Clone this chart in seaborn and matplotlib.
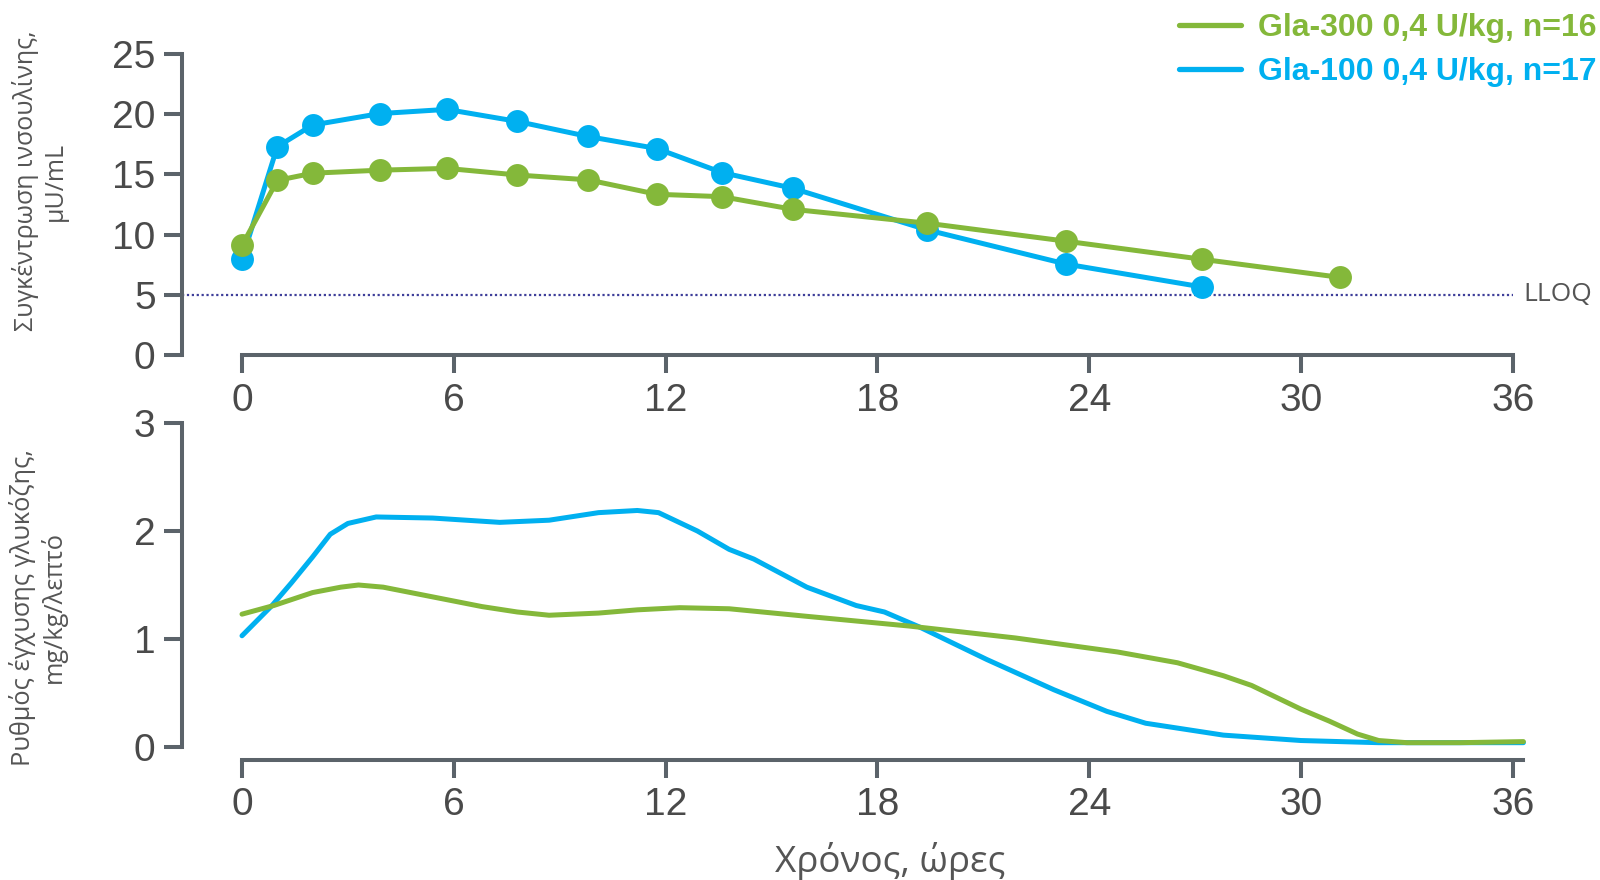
import numpy as np
import pandas as pd
import matplotlib
matplotlib.use("Agg")
import matplotlib.pyplot as plt
import seaborn as sns
from matplotlib.lines import Line2D

# ---------------- data ----------------
lab300 = "Gla-300 0,4 U/kg, n=16"
lab100 = "Gla-100 0,4 U/kg, n=17"

ins_time_300 = [0, 1.0, 2.0, 3.9, 5.8, 7.8, 9.8, 11.75, 13.6, 15.6, 19.4, 23.35, 27.2, 31.1]
ins_300 = [9.1, 14.5, 15.1, 15.35, 15.5, 14.95, 14.55, 13.35, 13.15, 12.1, 10.95, 9.45, 7.95, 6.45]
ins_time_100 = [0, 1.0, 2.0, 3.9, 5.8, 7.8, 9.8, 11.75, 13.6, 15.6, 19.4, 23.35, 27.2]
ins_100 = [7.95, 17.3, 19.1, 20.05, 20.4, 19.4, 18.15, 17.15, 15.15, 13.85, 10.4, 7.55, 5.65]

gir_time_300 = [0, 0.9, 2.0, 2.8, 3.3, 4.0, 5.4, 6.8, 7.8, 8.7, 10.1, 11.2, 12.4, 13.8, 16.0, 18.9,
                21.9, 24.8, 26.5, 27.8, 28.6, 29.3, 30.0, 30.8, 31.6, 32.2, 33.0, 34.5, 36.3]
gir_300 = [1.23, 1.31, 1.43, 1.48, 1.50, 1.48, 1.39, 1.30, 1.25, 1.22, 1.24, 1.27, 1.29, 1.28, 1.21, 1.12,
           1.01, 0.88, 0.78, 0.66, 0.57, 0.46, 0.35, 0.24, 0.12, 0.06, 0.04, 0.04, 0.05]
gir_time_100 = [0, 0.85, 1.4, 2.0, 2.5, 3.0, 3.8, 5.4, 7.3, 8.7, 10.1, 11.2, 11.8, 12.9, 13.8,
                14.5, 16.0, 17.4, 18.2, 19.2, 21.1, 23.0, 24.5, 25.6, 27.8, 30.0, 32.2, 36.3]
gir_100 = [1.03, 1.31, 1.52, 1.76, 1.97, 2.07, 2.13, 2.12, 2.08, 2.10, 2.17, 2.19, 2.17, 2.00, 1.83,
           1.74, 1.48, 1.31, 1.25, 1.11, 0.81, 0.53, 0.33, 0.22, 0.11, 0.06, 0.04, 0.04]

x_ticks = [0, 6, 12, 18, 24, 30, 36]
ins_ticks = [0, 5, 10, 15, 20, 25]
gir_ticks = [0, 1, 2, 3]
lloq = 5

ins_ylabel = "Συγκέντρωση ινσουλίνης,\nμU/mL"
gir_ylabel = "Ρυθμός έγχυσης γλυκόζης,\nmg/kg/λεπτό"
xlabel = "Χρόνος, ώρες"

# ---------------- frames ----------------
df_ins = pd.concat([
    pd.DataFrame({"t": ins_time_100, "v": ins_100, "s": lab100}),
    pd.DataFrame({"t": ins_time_300, "v": ins_300, "s": lab300}),
])
df_gir = pd.concat([
    pd.DataFrame({"t": gir_time_100, "v": gir_100, "s": lab100}),
    pd.DataFrame({"t": gir_time_300, "v": gir_300, "s": lab300}),
])

GREEN = "#84B83A"
BLUE = "#00B0F0"
palette = {lab300: GREEN, lab100: BLUE}
AXC = "#5B636A"
TXT = "#4A4A4A"

sns.set_theme(style="white")
plt.rcParams["font.family"] = ["Liberation Sans", "DejaVu Sans"]

fig = plt.figure(figsize=(16, 8.8), dpi=100)
W, H = 1600.0, 880.0
pxh = 35.3
xl = -60 / pxh
xr = 36.5
left = 182 / W
width = (242 + xr * pxh - 182) / W
ax1 = fig.add_axes([left, 1 - 355 / H, width, 301 / H])
ax2 = fig.add_axes([left, 1 - 747 / H, width, 324 / H])

sns.lineplot(data=df_ins, x="t", y="v", hue="s", hue_order=[lab100, lab300], palette=palette,
             marker="o", markersize=16.5, markeredgewidth=0, linewidth=3.6, sort=False,
             errorbar=None, legend=False, ax=ax1, clip_on=False)
sns.lineplot(data=df_gir, x="t", y="v", hue="s", hue_order=[lab100, lab300], palette=palette,
             linewidth=3.6, sort=False, errorbar=None, legend=False, ax=ax2, clip_on=False)
for ln in ax2.get_lines():
    ln.set_solid_joinstyle("round")

ax1.hlines(lloq, xl, 36, colors="#3F3F9A", linestyles=(0, (1, 1.2)), linewidth=1.6, zorder=0)
ax1.text(36.3, lloq, "LLOQ", family="Open Sans", fontsize=19, color="#555555",
         va="center", ha="left", clip_on=False)

for ax, yt, top, xend in [(ax1, ins_ticks, 25, 36), (ax2, gir_ticks, 3, 36.3)]:
    ax.set_xlim(xl, xr)
    ax.set_ylim(0, top)
    ax.set_xticks(x_ticks)
    ax.set_yticks(yt)
    ax.set_xlabel("")
    ax.set_ylabel("")
    for s in ["top", "right"]:
        ax.spines[s].set_visible(False)
    for s in ["left", "bottom"]:
        ax.spines[s].set_color(AXC)
        ax.spines[s].set_linewidth(2.9)
    ax.spines["left"].set_bounds(0, top)
    ax.spines["bottom"].set_bounds(0, xend)
    ax.tick_params(axis="both", which="major", direction="out", length=13, width=2.9,
                   color=AXC, labelsize=28, labelcolor=TXT, bottom=True, left=True)
    ax.tick_params(axis="y", pad=6)
    ax.tick_params(axis="x", pad=7)
    ax.set_facecolor("none")

ax2.spines["bottom"].set_position(("outward", 9))

fig.text(40 / W, 1 - 181 / H, ins_ylabel, rotation=90, ha="center", va="center",
         multialignment="center", family="Open Sans", fontsize=18, color="#555555",
         linespacing=1.2)
fig.text(38 / W, 1 - 607 / H, gir_ylabel, rotation=90, ha="center", va="center",
         multialignment="center", family="Open Sans", fontsize=18.3, color="#555555",
         linespacing=1.2)
fig.text(890 / W, 1 - 872 / H, xlabel, ha="center", va="baseline", family="Open Sans",
         fontsize=26.5, color="#555555")

handles = [Line2D([], [], color=GREEN, lw=3.8), Line2D([], [], color=BLUE, lw=3.8)]
fig.legend(handles, [lab300, lab100], loc="upper right", bbox_to_anchor=(1597 / W, 1 - 13 / H),
           frameon=False, prop={"family": "Liberation Sans", "weight": "bold", "size": 23},
           labelcolor=[GREEN, BLUE], handlelength=1.95, handletextpad=0.55, labelspacing=0.45,
           borderpad=0, borderaxespad=0)

fig.savefig("out.png", dpi=100, facecolor="white")
